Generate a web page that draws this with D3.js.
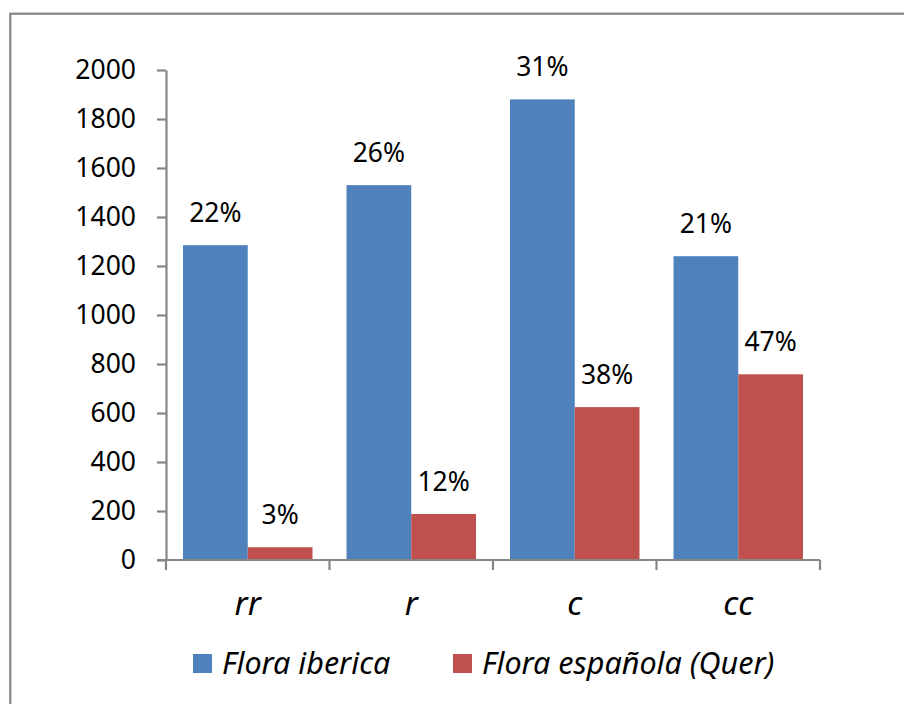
<!DOCTYPE html>
<html>
<head>
<meta charset="utf-8">
<script src="https://cdn.jsdelivr.net/npm/d3@7"></script>
<style>
  body { margin: 0; background: #fff; }
  text { font-family: "Noto Sans", "Open Sans", sans-serif; fill: #000; }
</style>
</head>
<body>
<div class="container"></div>
<script>
// data
const categories = ["rr", "r", "c", "cc"]
const seriesNames = ["Flora iberica", "Flora española (Quer)"]
const floraIberica = [1285, 1530, 1880, 1240]
const floraQuer = [52, 188, 624, 758]
const pctIberica = ["22%", "26%", "31%", "21%"]
const pctQuer = ["3%", "12%", "38%", "47%"]
const yTicks = [0, 200, 400, 600, 800, 1000, 1200, 1400, 1600, 1800, 2000]

const colors = ["#4F81BD", "#C0504D"]
const axisColor = "#868686"
const font = "'Noto Sans', 'Open Sans', sans-serif"

const rows = categories.map((c, i) => ({
    cat: c,
    values: [
        {series: 0, value: floraIberica[i], label: pctIberica[i]},
        {series: 1, value: floraQuer[i], label: pctQuer[i]}
    ]
}))

const svg = d3.select(".container")
    .append("svg")
    .attr("width", 904)
    .attr("height", 704)

// outer frame (runs off the right and bottom edge)
svg.append("rect")
    .attr("x", 10.3)
    .attr("y", 13.7)
    .attr("width", 960)
    .attr("height", 760)
    .attr("fill", "none")
    .attr("stroke", axisColor)
    .attr("stroke-width", 2.2)

const x0 = d3.scaleBand()
    .domain(categories)
    .range([166, 820])
    .padding(0)

const x1 = d3.scaleBand()
    .domain([0, 1])
    .range([17, x0.bandwidth() - 17])

const y = d3.scaleLinear()
    .domain([0, 2000])
    .range([560, 70])

// bars
const group = svg.selectAll("g.cat")
    .data(rows)
    .join("g")
    .attr("class", "cat")
    .attr("transform", d => `translate(${x0(d.cat)},0)`)

group.selectAll("rect")
    .data(d => d.values)
    .join("rect")
    .attr("x", d => x1(d.series))
    .attr("y", d => y(d.value))
    .attr("width", x1.bandwidth())
    .attr("height", d => y(0) - y(d.value))
    .attr("fill", d => colors[d.series])

group.selectAll("text.pct")
    .data(d => d.values)
    .join("text")
    .attr("class", "pct")
    .attr("x", d => x1(d.series) + x1.bandwidth() / 2)
    .attr("y", d => y(d.value) - 23)
    .attr("text-anchor", "middle")
    .attr("font-size", 26.5)
    .text(d => d.label)

// y axis
const yAxis = svg.append("g")
    .attr("transform", "translate(166,0)")
    .call(d3.axisLeft(y)
        .tickValues(yTicks)
        .tickFormat(d3.format("d"))
        .tickSize(9)
        .tickPadding(21)
        .tickSizeOuter(0))

yAxis.select(".domain").attr("stroke", axisColor).attr("stroke-width", 2.2)
yAxis.selectAll(".tick line").attr("stroke", axisColor).attr("stroke-width", 2.2)
yAxis.selectAll(".tick text")
    .attr("font-size", 26.5)
    .attr("font-family", font)
    .attr("fill", "#000")

// x axis: line plus ticks on the band edges
const xAxis = svg.append("g")
xAxis.append("line")
    .attr("x1", 157)
    .attr("x2", 820)
    .attr("y1", y(0))
    .attr("y2", y(0))
    .attr("stroke", axisColor)
    .attr("stroke-width", 2.2)

const edges = categories.map(c => x0(c)).concat([x0.range()[1]])
xAxis.selectAll("line.edge")
    .data(edges)
    .join("line")
    .attr("class", "edge")
    .attr("x1", d => d)
    .attr("x2", d => d)
    .attr("y1", y(0))
    .attr("y2", y(0) + 10)
    .attr("stroke", axisColor)
    .attr("stroke-width", 2.2)

xAxis.selectAll("text")
    .data(categories)
    .join("text")
    .attr("x", d => x0(d) + x0.bandwidth() / 2)
    .attr("y", 615)
    .attr("text-anchor", "middle")
    .attr("font-size", 33)
    .attr("font-style", "italic")
    .text(d => d)

// legend
const legendX = [193, 453]
const legend = svg.selectAll("g.legend")
    .data(seriesNames)
    .join("g")
    .attr("class", "legend")
    .attr("transform", (d, i) => `translate(${legendX[i]},654)`)

legend.append("rect")
    .attr("width", 19)
    .attr("height", 19)
    .attr("fill", (d, i) => colors[i])

legend.append("text")
    .attr("x", 29)
    .attr("y", 19.5)
    .attr("font-size", 30.5)
    .attr("font-style", "italic")
    .text(d => d)
</script>
</body>
</html>
